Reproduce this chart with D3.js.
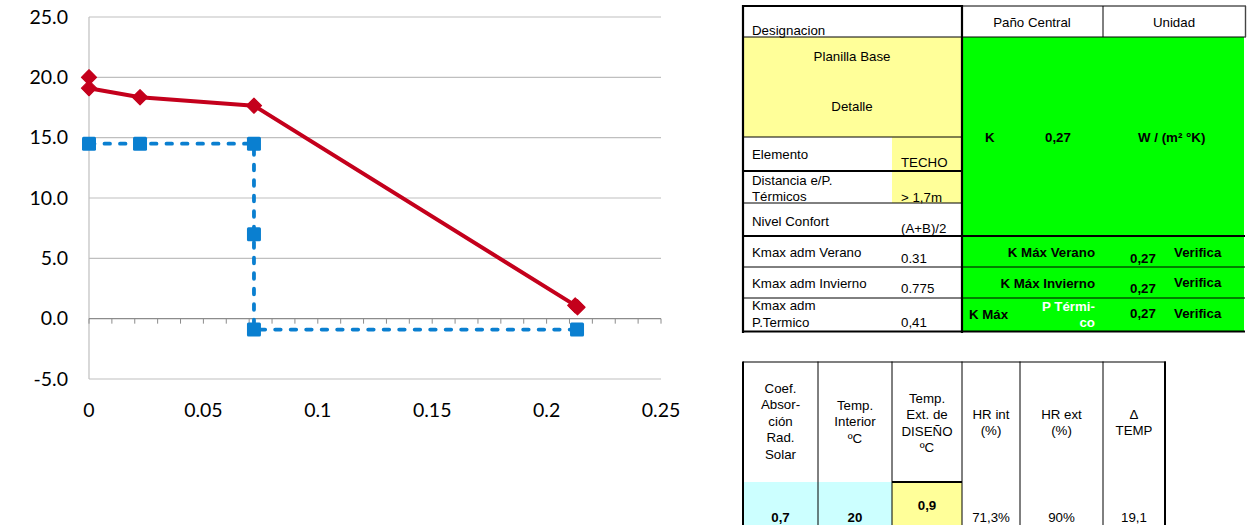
<!DOCTYPE html>
<html><head><meta charset="utf-8">
<script src="https://cdn.jsdelivr.net/npm/d3@7"></script>
<style>body{margin:0;background:#fff;}svg{display:block;}</style>
</head><body>
<svg id="c" width="1259" height="525"></svg>
<script>
// ---- chart data ----
const redX = [0, 0, 0.0223, 0.0721, 0.2125, 0.2135];
const redY = [20.0, 19.1, 18.35, 17.65, 1.1, 0.95];
const blueX = [0, 0.0223, 0.0721, 0.0721, 0.0721, 0.2133];
const blueY = [14.5, 14.5, 14.5, 7.0, -0.9, -0.9];
const yTicks = [-5, 0, 5, 10, 15, 20, 25];
const yTickLabels = ["-5.0", "0.0", "5.0", "10.0", "15.0", "20.0", "25.0"];
const xTicks = [0, 0.05, 0.1, 0.15, 0.2, 0.25];
const xTickLabels = ["0", "0.05", "0.1", "0.15", "0.2", "0.25"];
const xMinorTicks = d3.range(0, 26).map(i => i / 100);

// ---- table data ----
const headTop = ["Designacion", "Paño Central", "Unidad"];
const leftLabels = [["Elemento"], ["Distancia e/P.", "Térmicos"], ["Nivel Confort"], ["Kmax adm Verano"], ["Kmax adm Invierno"], ["Kmax adm", "P.Termico"]];
const leftValues = ["TECHO", "> 1,7m", "(A+B)/2", "0.31", "0.775", "0,41"];
const kRow = ["K", "0,27", "W / (m² °K)"];
const checkLabels = ["K Máx Verano", "K Máx Invierno", "K Máx"];
const checkValues = ["0,27", "0,27", "0,27"];
const checkResults = ["Verifica", "Verifica", "Verifica"];
const lowHeaders = [["Coef.","Absor-","ción","Rad.","Solar"],["Temp.","Interior","ºC"],["Temp.","Ext. de","DISEÑO","ºC"],["HR int","(%)"],["HR ext","(%)"],["Δ","TEMP"]];
const lowValues = ["0,7", "20", "0,9", "71,3%", "90%", "19,1"];

const svg = d3.select("#c");
const RED = "#C4001C", BLUE = "#0A7FD0";

// ---- chart ----
const x = d3.scaleLinear().domain([0, 0.25]).range([89, 661]);
const y = d3.scaleLinear().domain([-5, 25]).range([379, 17]);
const g = svg.append("g");

g.selectAll(".grid").data(yTicks.filter(v => v !== 0)).enter().append("line")
  .attr("x1", x(0)).attr("x2", x(0.25)).attr("y1", d => y(d)).attr("y2", d => y(d))
  .attr("stroke", "#BFBFBF").attr("stroke-width", 1.2);
g.append("line").attr("x1", x(0)).attr("x2", x(0)).attr("y1", y(25)).attr("y2", y(-5))
  .attr("stroke", "#BFBFBF").attr("stroke-width", 1.2);
g.append("line").attr("x1", x(0)).attr("x2", x(0.25)).attr("y1", y(0)).attr("y2", y(0))
  .attr("stroke", "#8C8C8C").attr("stroke-width", 1.2);
g.selectAll(".mt").data(xMinorTicks).enter().append("line")
  .attr("x1", d => x(d)).attr("x2", d => x(d)).attr("y1", y(0)).attr("y2", y(0) + 5)
  .attr("stroke", "#8C8C8C").attr("stroke-width", 1);

const lblFont = "Lato, 'Open Sans', sans-serif";
g.selectAll(".yl").data(yTicks).enter().append("text")
  .attr("x", 68).attr("y", d => y(d)).attr("dy", "0.35em").attr("text-anchor", "end")
  .attr("font-family", lblFont).attr("font-size", 19.5).attr("fill", "#000")
  .text((d, i) => yTickLabels[i]);
g.selectAll(".xl").data(xTicks).enter().append("text")
  .attr("x", d => x(d)).attr("y", 417).attr("text-anchor", "middle")
  .attr("font-family", lblFont).attr("font-size", 19.5).attr("fill", "#000")
  .text((d, i) => xTickLabels[i]);

const bluePts = blueX.map((v, i) => [v, blueY[i]]);
const redPts = redX.map((v, i) => [v, redY[i]]);
const line = d3.line().x(d => x(d[0])).y(d => y(d[1]));

g.append("path").attr("d", line(bluePts)).attr("fill", "none").attr("stroke", BLUE)
  .attr("stroke-width", 3.8).attr("stroke-dasharray", "5.5,10").attr("stroke-linecap", "round");
g.selectAll(".bm").data(bluePts).enter().append("rect")
  .attr("x", d => x(d[0]) - 7).attr("y", d => y(d[1]) - 7).attr("width", 14).attr("height", 14)
  .attr("rx", 1.5).attr("fill", BLUE);

g.append("path").attr("d", line(redPts)).attr("fill", "none").attr("stroke", RED)
  .attr("stroke-width", 4).attr("stroke-linejoin", "round");
const diamond = d3.symbol().type(d3.symbolDiamond2).size(145);
g.selectAll(".rm").data(redPts).enter().append("path")
  .attr("d", diamond).attr("transform", d => `translate(${x(d[0])},${y(d[1])})`)
  .attr("fill", RED).attr("stroke", RED).attr("stroke-width", 1.2).attr("stroke-linejoin", "round");

// ---- top table ----
const T = svg.append("g").attr("font-family", "'Liberation Sans', Arial, sans-serif").attr("font-size", 13.3).attr("fill", "#000");
const YEL = "#FFFF99", GRN = "#00FF00", CYA = "#CCFFFF";
T.append("rect").attr("x", 743).attr("y", 37).attr("width", 219).attr("height", 100).attr("fill", YEL);
T.append("rect").attr("x", 892).attr("y", 137).attr("width", 70).attr("height", 66).attr("fill", YEL);
T.append("rect").attr("x", 962).attr("y", 37).attr("width", 282).attr("height", 294).attr("fill", GRN);

function ln(x1, y1, x2, y2, w, c) {
  T.append("line").attr("x1", x1).attr("y1", y1).attr("x2", x2).attr("y2", y2)
    .attr("stroke", c || "#000").attr("stroke-width", w);
}
ln(742, 6, 962, 6, 2.2);
ln(962, 6, 1246, 6, 1);
ln(743, 5, 743, 333, 2.2);
ln(962, 5, 962, 333, 2.2);
ln(743, 37, 1246, 37, 1);
ln(1103, 6, 1103, 37, 1);
ln(1245.5, 6, 1245.5, 37, 1.4, "#444");
ln(743, 137, 962, 137, 1);
ln(743, 171, 962, 171, 2);
ln(743, 203, 962, 203, 1);
ln(743, 236, 1245, 236, 2);
ln(743, 267, 1245, 267, 1);
ln(743, 298, 1245, 298, 1);
ln(742, 331.5, 1245, 331.5, 2.2);

function tx(t, xx, yy, anchor, bold, fill) {
  T.append("text").attr("x", xx).attr("y", yy).attr("text-anchor", anchor || "start")
    .attr("font-weight", bold ? "bold" : "normal").attr("fill", fill || "#000").text(t);
}
tx(headTop[0], 752, 35);
tx(headTop[1], 1032, 27, "middle");
tx(headTop[2], 1174, 27, "middle");
tx("Planilla Base", 852, 61, "middle");
tx("Detalle", 852, 111, "middle");
const labelBase = [[159], [185, 201], [226], [257], [288], [310, 327]];
const valueBase = [167, 202, 233, 263, 293, 327];
leftLabels.forEach((parts, i) => {
  parts.forEach((p, j) => tx(p, 752, labelBase[i][j]));
  tx(leftValues[i], 901, valueBase[i]);
});
tx(kRow[0], 985, 142, "start", true);
tx(kRow[1], 1045, 142, "start", true);
tx(kRow[2], 1138, 142, "start", true);
tx(checkLabels[0], 1095, 257, "end", true);
tx(checkLabels[1], 1095, 288, "end", true);
tx(checkLabels[2], 969, 319, "start", true);
tx("P Térmi-", 1095, 311, "end", true, "#fff");
tx("co", 1095, 327, "end", true, "#fff");
const valB = [263, 293, 318];
const resB = [257, 287, 318];
checkValues.forEach((v, i) => tx(v, 1130, valB[i], "start", true));
checkResults.forEach((v, i) => tx(v, 1174, resB[i], "start", true));

// ---- lower table ----
const cols = [743, 818, 892, 962, 1020, 1103, 1165];
T.append("rect").attr("x", 743).attr("y", 482).attr("width", 149).attr("height", 43).attr("fill", CYA);
T.append("rect").attr("x", 892).attr("y", 482).attr("width", 70).attr("height", 43).attr("fill", YEL);
ln(743, 362, 1166, 362, 1.2);
cols.forEach((c, i) => ln(c, 361.5, c, 525, (i === 0 || i === cols.length - 1) ? 2 : 1));
ln(892, 482, 962, 482, 2);
const hdrStart = [393, 410, 403, 419, 419, 419];
lowHeaders.forEach((lines, i) => {
  const cx = (cols[i] + cols[i + 1]) / 2;
  lines.forEach((t, j) => tx(t, cx, hdrStart[i] + j * 16.4, "middle"));
});
const valY = [522, 522, 510, 522, 522, 522];
lowValues.forEach((v, i) => {
  const cx = (cols[i] + cols[i + 1]) / 2;
  tx(v, cx, valY[i], "middle", i < 3);
});
</script>
</body></html>
